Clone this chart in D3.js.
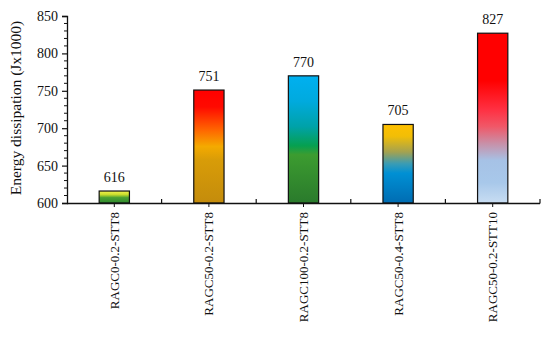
<!DOCTYPE html>
<html>
<head>
<meta charset="utf-8">
<script src="https://cdn.jsdelivr.net/npm/d3@7"></script>
<style>
  body { margin: 0; background: #fff; }
  svg { font-family: "Liberation Serif", "Times New Roman", serif; }
</style>
</head>
<body>
<svg id="chart" width="550" height="338"></svg>
<script>
// data
const categories = ["RAGC0-0.2-STT8", "RAGC50-0.2-STT8", "RAGC100-0.2-STT8", "RAGC50-0.4-STT8", "RAGC50-0.2-STT10"];
const energyValues = [616, 751, 770, 705, 827];
const yTicks = [600, 650, 700, 750, 800, 850];

// gradient stops for each bar (top -> bottom)
const barGradients = [
  [[0, "#f4f450"], [0.3, "#c8dc2c"], [0.55, "#4aa032"], [1, "#2e8a2e"]],
  [[0, "#ff0000"], [0.15, "#ff0a00"], [0.35, "#ff6400"], [0.5, "#f4aa00"], [0.62, "#d89c08"], [1, "#c48c0c"]],
  [[0, "#00b0f0"], [0.2, "#00aade"], [0.4, "#00a2a8"], [0.55, "#06a050"], [0.62, "#3c9c30"], [1, "#2a7a2c"]],
  [[0, "#ffc000"], [0.15, "#f2be06"], [0.35, "#a4a250"], [0.5, "#3a9cb4"], [0.62, "#0090d4"], [1, "#006cb2"]],
  [[0, "#ff0000"], [0.28, "#ff0000"], [0.45, "#ff3042"], [0.55, "#f05868"], [0.65, "#c890a8"], [0.75, "#a6c2e6"], [0.88, "#a8c8ea"], [1, "#c8ddf2"]]
];

const svg = d3.select("#chart");

const x = d3.scaleBand()
  .domain(categories)
  .range([67, 540])
  .paddingInner(0.68)
  .paddingOuter(0.34);

const y = d3.scaleLinear()
  .domain([600, 850])
  .range([203, 16]);

// gradients
const defs = svg.append("defs");
barGradients.forEach((stops, i) => {
  const g = defs.append("linearGradient")
    .attr("id", "grad" + i)
    .attr("x1", 0).attr("y1", 0)
    .attr("x2", 0).attr("y2", 1);
  stops.forEach(s => {
    g.append("stop").attr("offset", s[0]).attr("stop-color", s[1]);
  });
});

// bars
svg.selectAll("rect.bar")
  .data(energyValues)
  .enter()
  .append("rect")
  .attr("class", "bar")
  .attr("x", (d, i) => x(categories[i]))
  .attr("y", d => y(d))
  .attr("width", x.bandwidth())
  .attr("height", d => y(600) - y(d))
  .attr("fill", (d, i) => `url(#grad${i})`)
  .attr("stroke", "#111")
  .attr("stroke-width", 1.2);

// value labels
svg.selectAll("text.val")
  .data(energyValues)
  .enter()
  .append("text")
  .attr("class", "val")
  .attr("x", (d, i) => x(categories[i]) + x.bandwidth() / 2)
  .attr("y", d => y(d) - 9)
  .attr("text-anchor", "middle")
  .attr("font-size", "14px")
  .attr("fill", "#111")
  .text(d => d);

// y axis
const yAxis = svg.append("g")
  .attr("transform", "translate(67,0)")
  .call(d3.axisLeft(y).tickValues(yTicks).tickSize(5).tickPadding(4));
yAxis.select(".domain").attr("stroke", "#111").attr("stroke-width", 1.3);
yAxis.selectAll(".tick line").attr("stroke", "#111").attr("stroke-width", 1.2);
yAxis.selectAll(".tick text")
  .attr("font-family", "Liberation Serif")
  .attr("font-size", "14px")
  .attr("fill", "#111");

// y minor ticks
const minor = d3.range(600, 851, 10).filter(v => v % 50 !== 0);
svg.append("g")
  .selectAll("line")
  .data(minor)
  .enter()
  .append("line")
  .attr("x1", 64).attr("x2", 67)
  .attr("y1", d => y(d)).attr("y2", d => y(d))
  .attr("stroke", "#111")
  .attr("stroke-width", 1);

// x axis line
svg.append("line")
  .attr("x1", 67).attr("x2", 540)
  .attr("y1", 203.5).attr("y2", 203.5)
  .attr("stroke", "#111")
  .attr("stroke-width", 1.3);

// boundary ticks (inward) between categories
const step = x.step();
const bounds = d3.range(1, categories.length + 1).map(k => 67 + k * step);
svg.append("g")
  .selectAll("line")
  .data(bounds)
  .enter()
  .append("line")
  .attr("x1", d => d).attr("x2", d => d)
  .attr("y1", 199).attr("y2", 203.5)
  .attr("stroke", "#111")
  .attr("stroke-width", 1.2);

// center ticks (outward) + labels
const xg = svg.append("g");
categories.forEach(c => {
  const cx = x(c) + x.bandwidth() / 2;
  xg.append("line")
    .attr("x1", cx).attr("x2", cx)
    .attr("y1", 203.5).attr("y2", 207)
    .attr("stroke", "#111")
    .attr("stroke-width", 1);
  xg.append("text")
    .attr("transform", `translate(${cx + 4.5},212) rotate(-90)`)
    .attr("text-anchor", "end")
    .attr("font-size", "13px")
    .attr("fill", "#111")
    .text(c);
});

// y title
svg.append("text")
  .attr("transform", "translate(21,108) rotate(-90)")
  .attr("text-anchor", "middle")
  .attr("font-size", "15.5px")
  .attr("fill", "#111")
  .text("Energy dissipation (Jx1000)");
</script>
</body>
</html>
